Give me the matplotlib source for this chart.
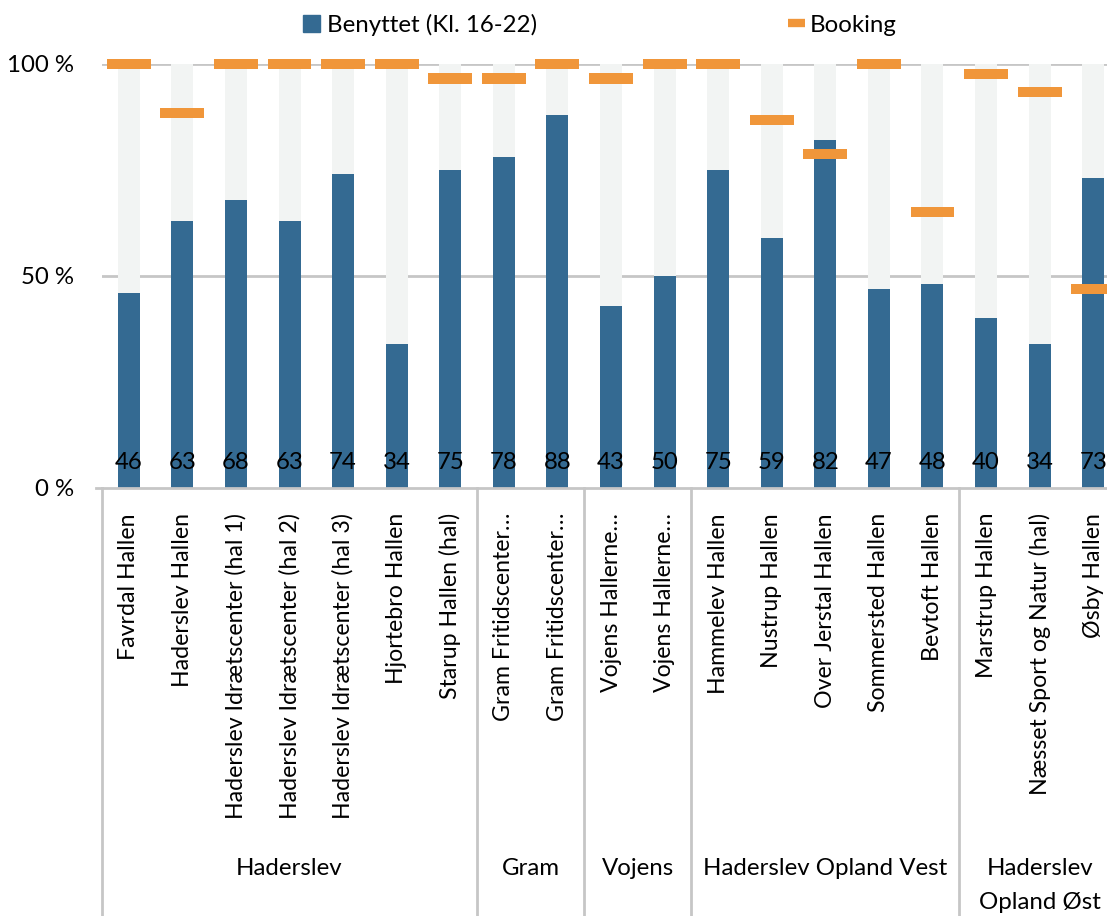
import matplotlib
matplotlib.use("Agg")
import matplotlib.pyplot as plt
from matplotlib.patches import Patch
from matplotlib.lines import Line2D
import numpy as np

plt.rcParams['font.family'] = ['Lato', 'DejaVu Sans']

categories = ["Favrdal Hallen", "Haderslev Hallen", "Haderslev Idrætscenter (hal 1)",
              "Haderslev Idrætscenter (hal 2)", "Haderslev Idrætscenter (hal 3)",
              "Hjortebro Hallen", "Starup Hallen (hal)", "Gram Fritidscenter…",
              "Gram Fritidscenter…", "Vojens Hallerne…", "Vojens Hallerne…",
              "Hammelev Hallen", "Nustrup Hallen", "Over Jerstal Hallen",
              "Sommersted Hallen", "Bevtoft Hallen", "Marstrup Hallen",
              "Næsset Sport og Natur (hal)", "Øsby Hallen"]
groups = ["Haderslev", "Gram", "Vojens", "Haderslev Opland Vest", "Haderslev\nOpland Øst"]
group_sizes = [7, 2, 2, 5, 3]
benyttet = [46, 63, 68, 63, 74, 34, 75, 78, 88, 43, 50, 75, 59, 82, 47, 48, 40, 34, 73]
booking = [100, 88.4, 100, 100, 100, 100, 96.6, 96.6, 100, 96.6, 100, 100, 86.7, 78.8,
           100, 65.0, 97.7, 93.3, 46.9]

BLUE = "#346a92"
LIGHT = "#f2f4f3"
ORANGE = "#f0963a"
GRID = "#c6c6c6"
FS = 17.3
FS_TICK = 16.7

W, H = 1107, 916
fig = plt.figure(figsize=(W / 100, H / 100), dpi=100)
ax = fig.add_axes([102 / W, (H - 488) / H, (1120 - 102) / W, 424 / H])

x = np.arange(len(categories))
ben = np.array(benyttet, dtype=float)
book = np.array(booking, dtype=float)

ax.set_axisbelow(True)
for yv in (50, 100):
    ax.axhline(yv, color=GRID, lw=2, zorder=0)

ax.bar(x, ben, width=0.41, color=BLUE, zorder=2)
ax.bar(x, 100 - ben, bottom=ben, width=0.41, color=LIGHT, zorder=2)
ax.bar(x, 2.4, bottom=book - 1.2, width=0.82, color=ORANGE, zorder=3, clip_on=False)

for xi, v in zip(x, benyttet):
    ax.text(xi, 6.1, f"{v}", ha="center", va="center", fontsize=FS, color="black", zorder=4)

ax.set_xlim(-0.5, len(categories) - 0.5)
ax.set_ylim(0, 100)
ax.set_yticks([0, 50, 100])
ax.set_yticklabels(["0 %", "50 %", "100 %"], fontsize=FS)
ax.tick_params(axis="y", length=0, pad=20)
ax.set_xticks(x)
ax.set_xticklabels(categories, rotation=90, fontsize=FS_TICK, va="top", ha="center")
ax.tick_params(axis="x", length=0, pad=18)

for s in ("top", "right", "left"):
    ax.spines[s].set_visible(False)
ax.spines["bottom"].set_color(GRID)
ax.spines["bottom"].set_linewidth(2)
ax.spines["bottom"].set_zorder(5)

trans = ax.get_xaxis_transform()
bottom_frac = -(H - 488) / 424 - 0.02
ax.plot([-0.5, -0.5], [0, bottom_frac], transform=trans, color=GRID, lw=2, clip_on=False)
ax.plot([-0.62, -0.5], [0, 0], transform=trans, color=GRID, lw=2, clip_on=False)
start = 0
for g, n in zip(groups, group_sizes):
    end = start + n
    if end < len(categories):
        ax.plot([end - 0.5, end - 0.5], [0, bottom_frac], transform=trans, color=GRID,
                lw=2, clip_on=False)
    cx = (start + end - 1) / 2
    ax.text(cx, (488 - 858) / 424, g, transform=trans, ha="center", va="top",
            fontsize=FS, linespacing=1.75)
    start = end

h1 = Patch(facecolor=BLUE, edgecolor=BLUE)
h2 = Line2D([], [], color=ORANGE, lw=6, solid_capstyle="butt")
fig.legend([h1], ["Benyttet (Kl. 16-22)"], loc="center left",
           bbox_to_anchor=(303 / W, 1 - 25 / H), frameon=False, fontsize=FS,
           handlelength=0.7, handleheight=0.7, handletextpad=0.3,
           borderpad=0, borderaxespad=0)
fig.legend([h2], ["Booking"], loc="center left",
           bbox_to_anchor=(788 / W, 1 - 25 / H), frameon=False, fontsize=FS,
           handlelength=0.72, handletextpad=0.2, borderpad=0, borderaxespad=0)

fig.savefig("out.png", dpi=100)
